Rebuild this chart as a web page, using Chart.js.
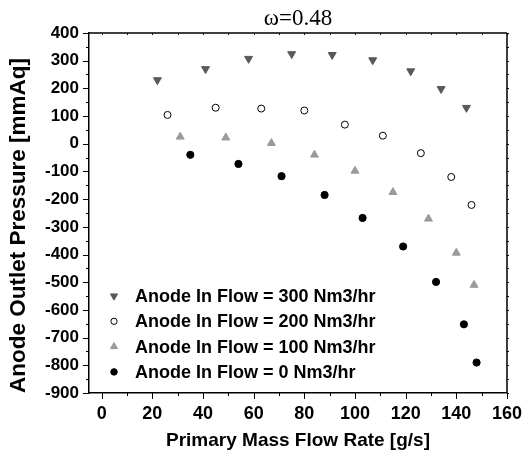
<!DOCTYPE html>
<html>
<head>
<meta charset="utf-8">
<script src="https://cdn.jsdelivr.net/npm/chart.js@4.4.1/dist/chart.umd.min.js"></script>
<style>
  html, body { margin: 0; padding: 0; background: #fff; }
</style>
</head>
<body>
<canvas id="chart" width="532" height="459"></canvas>
<script>
// Anode outlet pressure vs primary mass flow rate, omega = 0.48

// data
const seriesLabels = [
  'Anode In Flow = 300 Nm3/hr',
  'Anode In Flow = 200 Nm3/hr',
  'Anode In Flow = 100 Nm3/hr',
  'Anode In Flow = 0 Nm3/hr'
];
const flow300 = [22, 41, 58, 75, 91, 107, 122, 134, 144];
const press300 = [230, 270, 307, 324, 321, 302, 262, 198, 130];
const flow200 = [26, 45, 63, 80, 96, 111, 126, 138, 146];
const press200 = [104, 130, 127, 120, 69, 29, -34, -120, -221];
const flow100 = [31, 49, 67, 84, 100, 115, 129, 140, 147];
const press100 = [25, 22, 2, -40, -98, -175, -271, -394, -510];
const flow0 = [35, 54, 71, 88, 103, 119, 132, 143, 148];
const press0 = [-40, -73, -117, -185, -268, -371, -499, -652, -790];

const xTicks = [0, 20, 40, 60, 80, 100, 120, 140, 160];

const pts = (xs, ys) => xs.map((x, i) => ({ x: x, y: ys[i] }));

const boldFont = 'Liberation Sans, Arial, sans-serif';

// marker looks per series
const markers = [
  { style: 'triangle', rot: 180, r: 4.6, fill: '#595959', stroke: '#595959' },
  { style: 'circle', rot: 0, r: 3.5, fill: '#ffffff', stroke: '#000000' },
  { style: 'triangle', rot: 0, r: 4.6, fill: '#9a9a9a', stroke: '#9a9a9a' },
  { style: 'circle', rot: 0, r: 3.6, fill: '#000000', stroke: '#000000' }
];
const allData = [pts(flow300, press300), pts(flow200, press200), pts(flow100, press100), pts(flow0, press0)];

const datasets = allData.map((d, i) => ({
  label: seriesLabels[i],
  data: d,
  showLine: false,
  pointStyle: markers[i].style,
  pointRotation: markers[i].rot,
  pointRadius: markers[i].r,
  pointBackgroundColor: markers[i].fill,
  pointBorderColor: markers[i].stroke,
  pointBorderWidth: 1
}));

// frame on top/right and tick marks on all sides
const frameTicks = {
  id: 'frameTicks',
  afterDraw(chart) {
    const { ctx, chartArea: a, scales } = chart;
    const xs = scales.x, ys = scales.y;
    ctx.save();
    ctx.strokeStyle = '#000';
    ctx.lineWidth = 1.5;
    ctx.beginPath();
    ctx.moveTo(a.left, a.top); ctx.lineTo(a.right, a.top);
    ctx.moveTo(a.right, a.top); ctx.lineTo(a.right, a.bottom);
    ctx.stroke();

    ctx.lineWidth = 1;
    ctx.beginPath();
    for (let v = 0; v <= 160; v += 10) {
      const px = Math.round(xs.getPixelForValue(v)) + 0.5;
      const len = v % 20 === 0 ? 6 : 3;
      ctx.moveTo(px, a.bottom); ctx.lineTo(px, a.bottom + len);
      ctx.moveTo(px, a.top); ctx.lineTo(px, a.top + 2);
    }
    for (let v = -900; v <= 400; v += 50) {
      const py = Math.round(ys.getPixelForValue(v)) + 0.5;
      const len = v % 100 === 0 ? 6 : 3;
      ctx.moveTo(a.left, py); ctx.lineTo(a.left - len, py);
      ctx.moveTo(a.right, py); ctx.lineTo(a.right + 2, py);
    }
    ctx.stroke();
    ctx.restore();
  }
};

// legend drawn inside the plot, bottom left
const insideLegend = {
  id: 'insideLegend',
  afterDatasetsDraw(chart) {
    const { ctx, chartArea: a } = chart;
    const mx = a.left + 25;
    const y0 = a.bottom - 97;
    ctx.save();
    ctx.font = 'bold 18px ' + boldFont;
    ctx.textBaseline = 'middle';
    ctx.textAlign = 'left';
    seriesLabels.forEach((lab, i) => {
      const y = y0 + i * 25.3;
      const m = markers[i];
      ctx.fillStyle = m.fill;
      ctx.strokeStyle = m.stroke;
      ctx.lineWidth = 1;
      Chart.helpers.drawPoint(ctx, { pointStyle: m.style, rotation: m.rot, radius: m.r * 0.9, borderWidth: 1 }, mx, y);
      ctx.fillStyle = '#000';
      ctx.fillText(lab, mx + 21, y + 1);
    });
    ctx.restore();
  }
};

new Chart(document.getElementById('chart'), {
  type: 'scatter',
  data: { datasets: datasets },
  options: {
    responsive: false,
    devicePixelRatio: 1,
    animation: false,
    layout: { padding: { left: 0, right: 18, top: 0, bottom: 0 } },
    plugins: {
      legend: { display: false },
      tooltip: { enabled: false },
      title: {
        display: true,
        text: 'ω=0.48',
        fullSize: false,
        color: '#000',
        font: { family: 'Liberation Serif, Times New Roman, serif', size: 23, weight: 'normal', lineHeight: 1.15 },
        padding: { top: 6, bottom: 0.5 }
      }
    },
    scales: {
      x: {
        type: 'linear',
        min: -5,
        max: 160,
        afterBuildTicks: s => { s.ticks = xTicks.map(v => ({ value: v })); },
        afterFit: s => { s.height = 66; },
        grid: { display: false, drawTicks: false },
        border: { display: true, color: '#000', width: 1.5 },
        ticks: { color: '#000', padding: 10, maxRotation: 0, font: { family: boldFont, size: 18, weight: 'bold' } },
        title: {
          display: true,
          text: 'Primary Mass Flow Rate [g/s]',
          color: '#000',
          font: { family: boldFont, size: 19, weight: 'bold', lineHeight: 1 },
          padding: { top: 0, bottom: 9 }
        }
      },
      y: {
        min: -900,
        max: 400,
        afterFit: s => { s.width = 89; },
        grid: { display: false, drawTicks: false },
        border: { display: true, color: '#000', width: 1.5 },
        ticks: { color: '#000', stepSize: 100, padding: 10, font: { family: boldFont, size: 17, weight: 'bold' } },
        title: {
          display: true,
          text: 'Anode Outlet Pressure [mmAq]',
          align: 'start',
          color: '#000',
          font: { family: boldFont, size: 22.5, weight: 'bold', lineHeight: 1 },
          padding: { top: 8, bottom: 0 }
        }
      }
    }
  },
  plugins: [frameTicks, insideLegend]
});
</script>
</body>
</html>
